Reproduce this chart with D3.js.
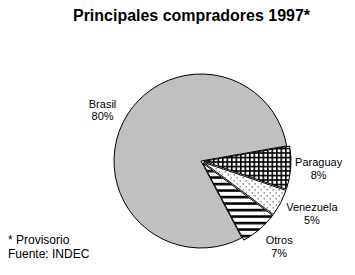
<!DOCTYPE html>
<html>
<head>
<meta charset="utf-8">
<script src="https://cdn.jsdelivr.net/npm/d3@7"></script>
<style>
  body { margin: 0; background: #fff; }
  text { font-family: "Liberation Sans", Arial, sans-serif; }
</style>
</head>
<body>
<div id="chart"></div>
<script>
var categories = ["Paraguay", "Venezuela", "Otros", "Brasil"]
var values = [8, 5, 7, 80]
var labels = ["8%", "5%", "7%", "80%"]
var fills = ["url(#grid)", "url(#dots)", "url(#stripes)", "#c0c0c0"]

var width = 355, height = 275
var cx = 201, cy = 161, radius = 87

var svg = d3.select("#chart")
    .append("svg")
    .attr("width", width)
    .attr("height", height)

// patterns for the small slices
var defs = svg.append("defs")
var grid = defs.append("pattern")
    .attr("id", "grid")
    .attr("patternUnits", "userSpaceOnUse")
    .attr("width", 4.5).attr("height", 4.5)
grid.append("rect").attr("width", 4.5).attr("height", 4.5).attr("fill", "#fff")
grid.append("rect").attr("width", 4.5).attr("height", 1.6).attr("fill", "#000")
grid.append("rect").attr("width", 1.6).attr("height", 4.5).attr("fill", "#000")

var dots = defs.append("pattern")
    .attr("id", "dots")
    .attr("patternUnits", "userSpaceOnUse")
    .attr("width", 6).attr("height", 6)
dots.append("rect").attr("width", 6).attr("height", 6).attr("fill", "#fff")
dots.append("rect").attr("x", 0).attr("y", 0).attr("width", 1).attr("height", 1).attr("fill", "#000")
dots.append("rect").attr("x", 3).attr("y", 3).attr("width", 1).attr("height", 1).attr("fill", "#000")

var stripes = defs.append("pattern")
    .attr("id", "stripes")
    .attr("patternUnits", "userSpaceOnUse")
    .attr("width", 6).attr("height", 6.5)
stripes.append("rect").attr("width", 6).attr("height", 6.5).attr("fill", "#fff")
stripes.append("rect").attr("width", 6).attr("height", 2.6).attr("fill", "#000")

svg.append("text")
    .attr("x", 73)
    .attr("y", 21)
    .attr("textLength", 237)
    .attr("lengthAdjust", "spacingAndGlyphs")
    .style("font-size", "16px")
    .style("font-weight", "bold")
    .text("Principales compradores 1997*")

var start = 80 * Math.PI / 180
var pie = d3.pie().sort(null).startAngle(start).endAngle(start + 2 * Math.PI)
var arcs = pie(values)

var arc = d3.arc().innerRadius(0).outerRadius(radius)
var labelArc = d3.arc().innerRadius(114).outerRadius(114)

var g = svg.append("g").attr("transform", "translate(" + cx + "," + cy + ")")

// small slices pulled out a bit
g.selectAll("path")
    .data(arcs)
    .enter()
    .append("path")
    .attr("d", arc)
    .attr("transform", function (d, i) {
        if (categories[i] == "Brasil") return null
        var a = (d.startAngle + d.endAngle) / 2
        return "translate(" + (3 * Math.sin(a)) + "," + (-3 * Math.cos(a)) + ")"
    })
    .attr("fill", function (d, i) { return fills[i] })
    .attr("stroke", "#000")
    .attr("stroke-width", 1)

var lab = g.selectAll(".lab")
    .data(arcs)
    .enter()
    .append("text")
    .attr("class", "lab")
    .attr("text-anchor", "middle")
    .attr("transform", function (d, i) {
        var c = labelArc.centroid(d)
        var dx = categories[i] == "Venezuela" ? 10 : 4
        return "translate(" + (c[0] + dx) + "," + c[1] + ")"
    })
    .style("font-size", "11px")
lab.append("tspan").attr("x", 0).attr("dy", "-0.3em").text(function (d, i) { return categories[i] })
lab.append("tspan").attr("x", 0).attr("dy", "1.15em").text(function (d, i) { return labels[i] })

svg.append("text").attr("x", 8).attr("y", 244).style("font-size", "12px").text("* Provisorio")
svg.append("text").attr("x", 8).attr("y", 258).style("font-size", "12px").text("Fuente: INDEC")
</script>
</body>
</html>
